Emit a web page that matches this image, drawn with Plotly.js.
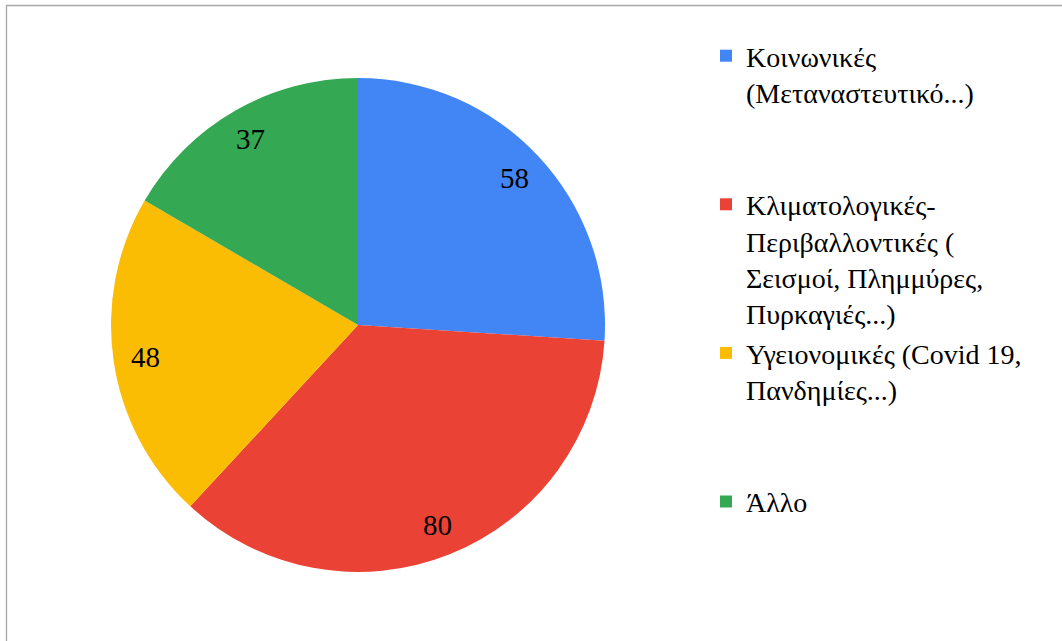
<!DOCTYPE html>
<html>
<head>
<meta charset="utf-8">
<script src="https://cdn.plot.ly/plotly-3.0.1.min.js"></script>
<style>
  html, body { margin: 0; padding: 0; background: #ffffff; }
  #chart { width: 1062px; height: 641px; }
</style>
</head>
<body>
<div id="chart"></div>
<script>
// ---- data ----
const categories = [
  "Κοινωνικές<br>(Μεταναστευτικό...)",
  "Κλιματολογικές-<br>Περιβαλλοντικές (<br>Σεισμοί, Πλημμύρες,<br>Πυρκαγιές...)",
  "Υγειονομικές (Covid 19,<br>Πανδημίες...)",
  "Άλλο"
];
const values = [58, 80, 48, 37];
const colors = ["#4285F4", "#EA4335", "#FBBC04", "#34A853"];

// blank lines appended to legend entries to reproduce the spacing of the original legend
const legendPadding = ["<br>\u00a0<br>\u00a0", "", "<br>\u00a0<br>\u00a0", ""];
const legendLabels = categories.map((c, i) => c + legendPadding[i]);

const FONT = "Liberation Serif";

// ---- geometry (layout only) ----
const W = 1062, H = 641;
const cxPx = 358, cyPx = 325, rPx = 247;
const domX = [(cxPx - rPx) / W, (cxPx + rPx) / W];
const domY = [(H - (cyPx + rPx)) / H, (H - (cyPx - rPx)) / H];
const labelRadius = 0.87;

// value labels placed at the middle angle of each slice (clockwise from 12 o'clock)
const total = values.reduce((a, b) => a + b, 0);
let cum = 0;
const annotations = values.map(v => {
  const mid = (cum + v / 2) / total * 2 * Math.PI;
  cum += v;
  const px = cxPx + labelRadius * rPx * Math.sin(mid);
  const py = cyPx - labelRadius * rPx * Math.cos(mid);
  return {
    x: px / W, y: 1 - py / H, xref: "paper", yref: "paper",
    text: String(v), showarrow: false,
    xanchor: "center", yanchor: "middle",
    font: { family: FONT, size: 29, color: "#000000" }
  };
});

const trace = {
  type: "pie",
  labels: legendLabels,
  values: values,
  sort: false,
  direction: "clockwise",
  rotation: 0,
  textinfo: "none",
  hoverinfo: "label+value",
  marker: { colors: colors, line: { width: 0 } },
  domain: { x: domX, y: domY }
};

const layout = {
  width: W, height: H,
  margin: { l: 0, r: 0, t: 0, b: 0 },
  font: { family: FONT, color: "#000000" },
  paper_bgcolor: "#ffffff",
  plot_bgcolor: "#ffffff",
  showlegend: true,
  legend: {
    x: 706 / W, y: 1 - 31 / H, xanchor: "left", yanchor: "top",
    valign: "top",
    bgcolor: "rgba(0,0,0,0)",
    font: { family: FONT, size: 28, color: "#000000" },
    traceorder: "normal"
  },
  annotations: annotations,
  shapes: [{
    type: "rect", xref: "paper", yref: "paper",
    x0: 6.5 / W, x1: 1.02, y0: -0.02, y1: 1 - 5.5 / H,
    line: { color: "#A6A6A6", width: 1.3 },
    fillcolor: "rgba(0,0,0,0)"
  }]
};

Plotly.newPlot("chart", [trace], layout, { displayModeBar: false, staticPlot: true });
</script>
</body>
</html>
